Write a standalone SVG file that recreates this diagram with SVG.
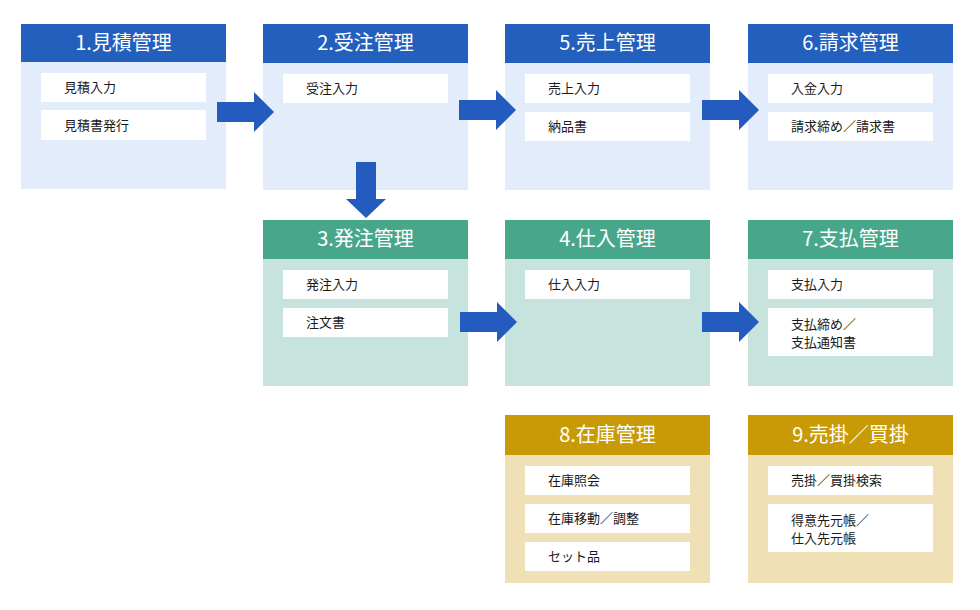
<svg xmlns="http://www.w3.org/2000/svg" width="980" height="610" viewBox="0 0 980 610">
<style>
.hb{fill:#2360BE}.bb{fill:#E3ECFA}
.hg{fill:#48A78A}.bg{fill:#C7E3DD}
.hy{fill:#C89A06}.by{fill:#EFE0B5}
.item{fill:#FFFFFF}
.ht{font-family:"Noto Sans CJK JP","Noto Sans",sans-serif;font-size:20px;fill:#FFFFFF;text-anchor:middle}
.it{font-family:"Noto Sans CJK JP","Noto Sans",sans-serif;font-size:13px;fill:#1A1A1A}
.arrow{fill:#235BBE}
</style>
<rect width="980" height="610" fill="#FFFFFF"/>
<g id="n1">
<rect class="bb" x="21" y="24" width="205" height="165"/>
<rect class="hb" x="21" y="24" width="205" height="38"/>
<text class="ht" x="123.5" y="50">1.見積管理</text>
<rect class="item" x="41" y="73" width="165" height="29"/>
<text class="it" x="64" y="92">見積入力</text>
<rect class="item" x="41" y="110" width="165" height="30"/>
<text class="it" x="64" y="130">見積書発行</text>
</g>
<g id="n2">
<rect class="bb" x="263" y="24" width="205" height="166"/>
<rect class="hb" x="263" y="24" width="205" height="39"/>
<text class="ht" x="365.5" y="50">2.受注管理</text>
<rect class="item" x="283" y="74" width="165" height="29"/>
<text class="it" x="306" y="93">受注入力</text>
</g>
<g id="n5">
<rect class="bb" x="505" y="24" width="205" height="166"/>
<rect class="hb" x="505" y="24" width="205" height="39"/>
<text class="ht" x="607.5" y="50">5.売上管理</text>
<rect class="item" x="525" y="74" width="165" height="29"/>
<text class="it" x="548" y="93">売上入力</text>
<rect class="item" x="525" y="112" width="165" height="29"/>
<text class="it" x="548" y="131">納品書</text>
</g>
<g id="n6">
<rect class="bb" x="748" y="24" width="205" height="166"/>
<rect class="hb" x="748" y="24" width="205" height="39"/>
<text class="ht" x="850.5" y="50">6.請求管理</text>
<rect class="item" x="768" y="74" width="165" height="29"/>
<text class="it" x="791" y="93">入金入力</text>
<rect class="item" x="768" y="112" width="165" height="29"/>
<text class="it" x="791" y="131">請求締め／請求書</text>
</g>
<g id="n3">
<rect class="bg" x="263" y="220" width="205" height="166"/>
<rect class="hg" x="263" y="220" width="205" height="39"/>
<text class="ht" x="365.5" y="246">3.発注管理</text>
<rect class="item" x="283" y="270" width="165" height="29"/>
<text class="it" x="306" y="289">発注入力</text>
<rect class="item" x="283" y="308" width="165" height="29"/>
<text class="it" x="306" y="327">注文書</text>
</g>
<g id="n4">
<rect class="bg" x="505" y="220" width="205" height="166"/>
<rect class="hg" x="505" y="220" width="205" height="39"/>
<text class="ht" x="607.5" y="246">4.仕入管理</text>
<rect class="item" x="525" y="270" width="165" height="29"/>
<text class="it" x="548" y="289">仕入入力</text>
</g>
<g id="n7">
<rect class="bg" x="748" y="220" width="205" height="166"/>
<rect class="hg" x="748" y="220" width="205" height="39"/>
<text class="ht" x="850.5" y="246">7.支払管理</text>
<rect class="item" x="768" y="270" width="165" height="29"/>
<text class="it" x="791" y="289">支払入力</text>
<rect class="item" x="768" y="308" width="165" height="48"/>
<text class="it" x="791" y="329">支払締め／</text>
<text class="it" x="791" y="347">支払通知書</text>
</g>
<g id="n8">
<rect class="by" x="505" y="415" width="205" height="168"/>
<rect class="hy" x="505" y="415" width="205" height="40"/>
<text class="ht" x="607.5" y="442">8.在庫管理</text>
<rect class="item" x="525" y="466" width="165" height="29"/>
<text class="it" x="548" y="485">在庫照会</text>
<rect class="item" x="525" y="504" width="165" height="29"/>
<text class="it" x="548" y="523">在庫移動／調整</text>
<rect class="item" x="525" y="542" width="165" height="29"/>
<text class="it" x="548" y="561">セット品</text>
</g>
<g id="n9">
<rect class="by" x="748" y="415" width="205" height="168"/>
<rect class="hy" x="748" y="415" width="205" height="40"/>
<text class="ht" x="850.5" y="442">9.売掛／買掛</text>
<rect class="item" x="768" y="466" width="165" height="29"/>
<text class="it" x="791" y="485">売掛／買掛検索</text>
<rect class="item" x="768" y="504" width="165" height="48"/>
<text class="it" x="791" y="525">得意先元帳／</text>
<text class="it" x="791" y="543">仕入先元帳</text>
</g>
<g id="connectors">
<polygon class="arrow" points="217,102 254,102 254,92 274,112 254,132 254,122 217,122"/>
<polygon class="arrow" points="459,100 496,100 496,90 516,110 496,130 496,120 459,120"/>
<polygon class="arrow" points="702,100 739,100 739,90 759,110 739,130 739,120 702,120"/>
<polygon class="arrow" points="460,312 497,312 497,302 517,322 497,342 497,332 460,332"/>
<polygon class="arrow" points="702,312 739,312 739,302 759,322 739,342 739,332 702,332"/>
<polygon class="arrow" points="356,162 376,162 376,199 386,199 366,218 346,199 356,199"/>
</g>
</svg>
